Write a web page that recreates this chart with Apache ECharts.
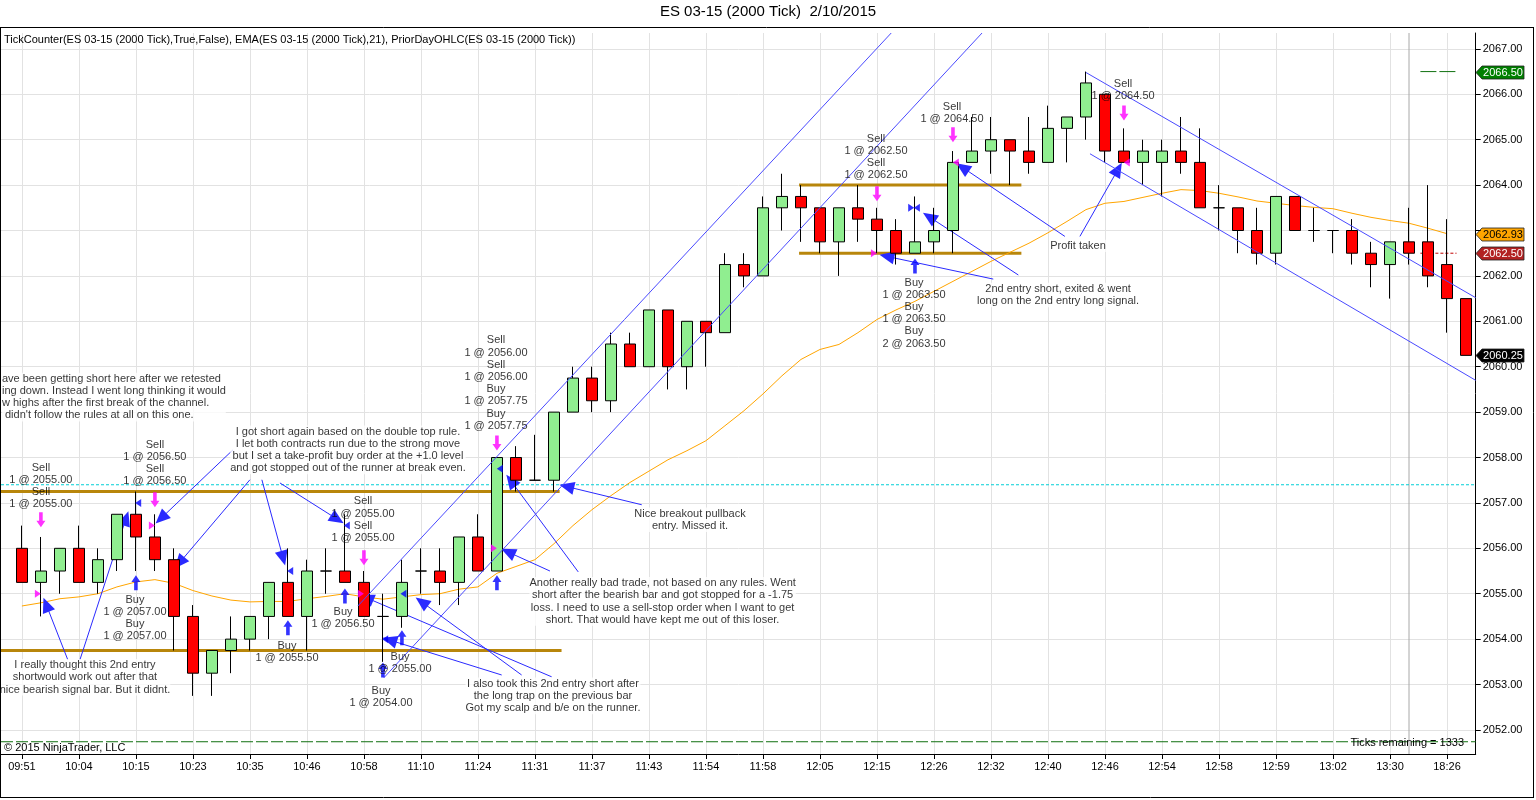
<!DOCTYPE html>
<html lang="en">
<head>
<meta charset="UTF-8" />
<title>ES 03-15 (2000 Tick) 2/10/2015</title>
<style>
  html, body { margin: 0; padding: 0; background: #fff; }
  #chart { width: 1536px; height: 800px; }
</style>
</head>
<body>
<div id="chart"></div>
<script src="https://cdn.jsdelivr.net/npm/echarts@6.0.0/dist/echarts.min.js"></script>
<script>
// time label every 3rd bar (bar 0, 3, 6, ...)
const timeLabels = ['09:51', '10:04', '10:15', '10:23', '10:35', '10:46', '10:58', '11:10', '11:24',
  '11:31', '11:37', '11:43', '11:54', '11:58', '12:05', '12:15', '12:26', '12:32', '12:40',
  '12:46', '12:54', '12:58', '12:59', '13:02', '13:30', '18:26']

// one row per 2000 tick bar: open, close, low, high
const bars = [
  [2056, 2055.25, 2055.25, 2056.5], [2055.25, 2055.5, 2054.5, 2056.25], [2055.5, 2056, 2055, 2056],
  [2056, 2055.25, 2055.25, 2056.5], [2055.25, 2055.75, 2055, 2056], [2055.75, 2056.75, 2055.5, 2056.75],
  [2056.75, 2056.25, 2055.5, 2057.25], [2056.25, 2055.75, 2055.5, 2056.75], [2055.75, 2054.5, 2053.75, 2056],
  [2054.5, 2053.25, 2052.75, 2054.75], [2053.25, 2053.75, 2052.75, 2053.75], [2053.75, 2054, 2053.25, 2054.5],
  [2054, 2054.5, 2053.75, 2054.5], [2054.5, 2055.25, 2054, 2055.25], [2055.25, 2054.5, 2054.5, 2056],
  [2054.5, 2055.5, 2053.75, 2055.75], [2055.5, 2055.5, 2055, 2056], [2055.5, 2055.25, 2055.25, 2056.75],
  [2055.25, 2054.5, 2054.5, 2055.5], [2054.5, 2054.5, 2053.5, 2055], [2054.5, 2055.25, 2054.25, 2055.75],
  [2055.5, 2055.5, 2055, 2056], [2055.5, 2055.25, 2054.75, 2056], [2055.25, 2056.25, 2054.75, 2056.25],
  [2056.25, 2055.5, 2055.5, 2056.75], [2055.5, 2058, 2055.5, 2058], [2058, 2057.5, 2057.25, 2058.25],
  [2057.5, 2057.5, 2057.5, 2058.5], [2057.5, 2059, 2057.25, 2059], [2059, 2059.75, 2059, 2060],
  [2059.75, 2059.25, 2059, 2060], [2059.25, 2060.5, 2059, 2060.75], [2060.5, 2060, 2060, 2060.75],
  [2060, 2061.25, 2060, 2061.25], [2061.25, 2060, 2059.5, 2061.25], [2060, 2061, 2059.5, 2061],
  [2061, 2060.75, 2060, 2061], [2060.75, 2062.25, 2060.75, 2062.5], [2062.25, 2062, 2061.75, 2062.5],
  [2062, 2063.5, 2062, 2063.75], [2063.5, 2063.75, 2063, 2064.25], [2063.75, 2063.5, 2062.75, 2064],
  [2063.5, 2062.75, 2062.5, 2063.5], [2062.75, 2063.5, 2062, 2063.5], [2063.5, 2063.25, 2062.75, 2064],
  [2063.25, 2063, 2062.5, 2063.5], [2063, 2062.5, 2062.25, 2063.25], [2062.5, 2062.75, 2062.5, 2063.75],
  [2062.75, 2063, 2062.5, 2063.5], [2063, 2064.5, 2062.5, 2064.75], [2064.5, 2064.75, 2064.5, 2065.5],
  [2064.75, 2065, 2064.25, 2065.5], [2065, 2064.75, 2064, 2065], [2064.75, 2064.5, 2064.25, 2065.5],
  [2064.5, 2065.25, 2064.5, 2065.75], [2065.25, 2065.5, 2064.5, 2065.5], [2065.5, 2066.25, 2065, 2066.5],
  [2066, 2064.75, 2064.5, 2066], [2064.75, 2064.5, 2064.5, 2065.25], [2064.5, 2064.75, 2064, 2065],
  [2064.5, 2064.75, 2063.75, 2065], [2064.75, 2064.5, 2064.25, 2065.5], [2064.5, 2063.5, 2063.5, 2065.25],
  [2063.5, 2063.5, 2063, 2064], [2063.5, 2063, 2062.5, 2063.5], [2063, 2062.5, 2062.25, 2063.5],
  [2062.5, 2063.75, 2062.25, 2063.75], [2063.75, 2063, 2063, 2063.75], [2063, 2063, 2062.75, 2063.5],
  [2063, 2063, 2062.5, 2063], [2063, 2062.5, 2062.25, 2063.25], [2062.5, 2062.25, 2061.75, 2062.75],
  [2062.25, 2062.75, 2061.5, 2062.75], [2062.75, 2062.5, 2062.25, 2063.5], [2062.75, 2062, 2061.75, 2064],
  [2062.25, 2061.5, 2060.75, 2063.25], [2061.5, 2060.25, 2060.25, 2061.5]
]

// EMA(21)
const ema = [2054.73, 2054.80, 2054.89, 2054.93, 2055.00, 2055.15, 2055.26, 2055.31, 2055.23, 2055.07,
  2054.95, 2054.86, 2054.82, 2054.83, 2054.83, 2054.89, 2054.94, 2055.00, 2054.93, 2054.88,
  2054.93, 2054.98, 2055.00, 2055.10, 2055.15, 2055.45, 2055.60, 2055.75, 2056.10, 2056.50,
  2056.85, 2057.16, 2057.45, 2057.70, 2057.95, 2058.15, 2058.37, 2058.70, 2059.03, 2059.40,
  2059.80, 2060.16, 2060.38, 2060.49, 2060.75, 2061.04, 2061.25, 2061.44, 2061.66, 2061.88,
  2062.10, 2062.32, 2062.52, 2062.72, 2062.95, 2063.20, 2063.46, 2063.60, 2063.64, 2063.73,
  2063.82, 2063.90, 2063.88, 2063.82, 2063.74, 2063.65, 2063.60, 2063.55, 2063.51, 2063.48,
  2063.38, 2063.29, 2063.22, 2063.16, 2063.05, 2062.93]

const priceTicks = [2052, 2053, 2054, 2055, 2056, 2057, 2058, 2059, 2060, 2061, 2062, 2063, 2064, 2065, 2066, 2067]
// 2063.00 sits under the EMA price box, so no label there
const priceLabels = [2052, 2053, 2054, 2055, 2056, 2057, 2058, 2059, 2060, 2061, 2062, 2064, 2065, 2066, 2067]

// drawn horizontal levels: price, from bar, to bar
const levels = [[2057.25, -1.1, 28.3], [2053.75, -1.1, 28.4], [2064.0, 40.9, 52.6], [2062.5, 40.9, 52.6]]
// channels: bar, price -> bar, price
const channels = [[17.68, 2054.73, 45.75, 2067.35], [19.05, 2053.15, 50.53, 2067.35],
  [56.0, 2066.48, 76.51, 2061.52], [56.21, 2064.69, 76.51, 2059.70]]
const priorDayClose = 2057.4
const priorDayLow = 2051.74
const sessionBreak = 73

// trade markers
const sellArrows = [[1, 2056.63], [7, 2057.07], [18, 2055.79], [25, 2058.32], [45, 2063.81], [49, 2065.11], [58, 2065.59]]
const buyArrows = [[6, 2055.24], [14, 2054.25], [17, 2054.95], [19, 2053.32], [20, 2054.03], [25, 2055.24], [47, 2062.22]]
const sellFills = [[0.84, 2055.0], [6.84, 2056.5], [17.84, 2055.0], [24.84, 2056.0], [44.84, 2062.5], [49.15, 2064.5], [58.15, 2064.5]]
const sellFillDir = [1, 1, 1, 1, 1, -1, -1]
const buyFills = [[6.12, 2057.0], [14.12, 2055.5], [17.1, 2056.5], [19.12, 2054.0], [20.08, 2055.0], [25.15, 2057.75], [47.1, 2063.5], [46.8, 2063.5]]
const buyFillDir = [-1, -1, -1, -1, -1, -1, -1, 1]

const tradeTexts = [
  [1, 2057.37, 'Sell\n1 @ 2055.00\nSell\n1 @ 2055.00'],
  [7, 2057.88, 'Sell\n1 @ 2056.50\nSell\n1 @ 2056.50'],
  [5.95, 2054.47, 'Buy\n1 @ 2057.00\nBuy\n1 @ 2057.00'],
  [13.95, 2053.72, 'Buy\n1 @ 2055.50'],
  [17.95, 2056.63, 'Sell\n1 @ 2055.00\nSell\n1 @ 2055.00'],
  [16.9, 2054.47, 'Buy\n1 @ 2056.50'],
  [19.9, 2053.48, 'Buy\n1 @ 2055.00'],
  [18.9, 2052.73, 'Buy\n1 @ 2054.00'],
  [24.95, 2059.64, 'Sell\n1 @ 2056.00\nSell\n1 @ 2056.00\nBuy\n1 @ 2057.75\nBuy\n1 @ 2057.75'],
  [44.95, 2064.62, 'Sell\n1 @ 2062.50\nSell\n1 @ 2062.50'],
  [46.95, 2061.18, 'Buy\n1 @ 2063.50\nBuy\n1 @ 2063.50\nBuy\n2 @ 2063.50'],
  [48.95, 2065.59, 'Sell\n1 @ 2064.50'],
  [57.95, 2066.10, 'Sell\n1 @ 2064.50']
]

const comments = [
  [-1.05, 2059.33, 'left', "ave been getting short here after we retested\ning down. Instead I went long thinking it would\nw highs after the first break of the channel.\n didn't follow the rules at all on this one."],
  [17.16, 2058.17, 'center', 'I got short again based on the double top rule.\nI let both contracts run due to the strong move\nbut I set a take-profit buy order at the +1.0 level\nand got stopped out of the runner at break even.'],
  [3.32, 2053.16, 'center', 'I really thought this 2nd entry\nshortwould work out after that\nnice bearish signal bar. But it didnt.'],
  [27.95, 2052.75, 'center', 'I also took this 2nd entry short after\nthe long trap on the previous bar\nGot my scalp and b/e on the runner.'],
  [33.72, 2054.83, 'center', 'Another really bad trade, not based on any rules. Went\nshort after the bearish bar and got stopped for a -1.75\nloss. I need to use a sell-stop order when I want to get\nshort. That would have kept me out of this loser.'],
  [35.16, 2056.63, 'center', 'Nice breakout pullback\nentry. Missed it.'],
  [55.58, 2062.66, 'center', 'Profit taken'],
  [54.53, 2061.58, 'center', '2nd entry short, exited & went\nlong on the 2nd entry long signal.']
]

// comment arrows: from bar, price -> to bar, price
const noteArrows = [
  [2.42, 2053.54, 1.28, 2054.76], [3.05, 2053.54, 5.48, 2056.66],
  [11.11, 2058.17, 7.32, 2056.66], [12.0, 2057.51, 8.29, 2055.68],
  [12.63, 2057.51, 13.75, 2055.78], [13.58, 2057.44, 16.6, 2056.64],
  [27.88, 2053.17, 18.13, 2054.91], [26.3, 2053.21, 21.04, 2054.82], [25.25, 2053.21, 19.35, 2053.98],
  [27.79, 2055.5, 25.58, 2055.92], [29.28, 2055.48, 25.73, 2057.49],
  [32.62, 2056.96, 28.67, 2057.36],
  [54.89, 2062.87, 49.5, 2064.39], [55.68, 2062.87, 57.69, 2064.35],
  [51.12, 2061.93, 45.52, 2062.43], [52.44, 2062.02, 47.75, 2063.3]
]

// right axis price boxes: value, fill, text colour
const priceBoxes = [[2066.5, '#008000', '#fff'], [2062.93, '#ffa500', '#000'], [2062.5, '#b22222', '#fff'], [2060.25, '#000', '#fff']]

const FONT = '"Liberation Sans", Arial, sans-serif'
const X_MIN = -1.1, X_MAX = 76.51
const Y_MIN = 2051.47, Y_MAX = 2067.35

let chart = echarts.init(document.getElementById('chart'))

function lineSeries(points, style, z) {
  return {
    type: 'line', data: points, showSymbol: false, symbol: 'none', silent: true,
    lineStyle: style, z: z || 3, animation: false
  }
}

let series = []
// levels first so candles sit on top
series.push(lineSeries([[X_MIN, priorDayClose], [X_MAX, priorDayClose]], { color: '#00cfd6', width: 1, type: [3, 2] }, 2))
series.push(lineSeries([[X_MIN, priorDayLow], [X_MAX, priorDayLow]], { color: '#107010', width: 1, type: [12, 3] }, 2))
series.push(lineSeries([[73.6, 2066.5], [75.55, 2066.5]], { color: '#107010', width: 1, type: [16, 3] }, 2))
series.push(lineSeries([[73.6, 2062.5], [75.5, 2062.5]], { color: '#c00000', width: 1, type: [3, 2] }, 2))
series.push(lineSeries([[sessionBreak, Y_MIN], [sessionBreak, Y_MAX]], { color: '#a8a8a8', width: 1 }, 1))
levels.forEach(l => series.push(lineSeries([[l[1], l[0]], [l[2], l[0]]], { color: '#b8860b', width: 3 }, 3)))
channels.forEach(c => series.push(lineSeries([[c[0], c[1]], [c[2], c[3]]], { color: '#4a4aff', width: 1 }, 6)))

series.push({
  type: 'candlestick',
  data: bars.map((b, i) => [i, b[0], b[1], b[2], b[3]]),
  encode: { x: 0, y: [1, 2, 3, 4] },
  barWidth: 11,
  itemStyle: {
    color: '#90ee90', color0: '#ff0000',
    borderColor: '#000', borderColor0: '#000', borderColorDoji: '#000', borderWidth: 1
  },
  z: 5
})
series.push(lineSeries(ema.map((v, i) => [i, v]), { color: '#ffa500', width: 1 }, 4))

// arrows from the comments
series.push({
  type: 'line', data: [], silent: true,
  markLine: {
    silent: true, animation: false,
    symbol: ['none', 'triangle'], symbolSize: [13, 15],
    label: { show: false },
    lineStyle: { color: '#2a2aff', width: 1, type: 'solid' },
    emphasis: { disabled: true },
    data: noteArrows.map(a => [{ coord: [a[0], a[1]] }, { coord: [a[2], a[3]] }])
  },
  z: 7
})

const downPath = 'path://M3,0 L7,0 L7,9 L10,9 L5,16 L0,9 L3,9 Z'
const upPath = 'path://M5,0 L10,7 L7,7 L7,16 L3,16 L3,7 L0,7 Z'
series.push({ type: 'scatter', data: sellArrows, symbol: downPath, symbolSize: [9, 15], itemStyle: { color: '#ff00ff' }, silent: true, z: 8 })
series.push({ type: 'scatter', data: buyArrows, symbol: upPath, symbolSize: [9, 15], itemStyle: { color: '#0000ff' }, silent: true, z: 8 })
series.push({
  type: 'scatter', silent: true, z: 8, symbol: 'triangle', symbolSize: [8, 6], itemStyle: { color: '#ff00ff' },
  data: sellFills.map((p, i) => ({ value: p, symbolRotate: sellFillDir[i] > 0 ? -90 : 90 }))
})
series.push({
  type: 'scatter', silent: true, z: 8, symbol: 'triangle', symbolSize: [8, 6], itemStyle: { color: '#0000ff' },
  data: buyFills.map((p, i) => ({ value: p, symbolRotate: buyFillDir[i] > 0 ? -90 : 90 }))
})

// text on the chart
const textStyle = { show: true, position: 'inside', color: '#000', fontFamily: FONT, fontSize: 11, lineHeight: 12.2 }
series.push({
  type: 'scatter', symbolSize: 0, silent: true, z: 9,
  label: Object.assign({ formatter: '{b}', align: 'center', verticalAlign: 'middle' }, textStyle),
  data: tradeTexts.map(t => ({ name: t[2], value: [t[0], t[1]] }))
})
series.push({
  type: 'scatter', symbolSize: 0, silent: true, z: 9,
  label: Object.assign({ formatter: '{b}', verticalAlign: 'middle', backgroundColor: '#fff' }, textStyle),
  data: comments.map(c => ({ name: c[3], value: [c[0], c[1]], label: { align: c[2] } }))
})

let option = {
  animation: false,
  backgroundColor: '#fff',
  grid: { left: 1, top: 33, width: 1474.7, bottom: 46, containLabel: false },
  xAxis: {
    type: 'value', min: X_MIN, max: X_MAX,
    axisLine: { show: true, onZero: false, lineStyle: { color: '#000', width: 1 } },
    axisTick: { show: true, length: 5, customValues: timeLabels.map((t, i) => i * 3), lineStyle: { color: '#000' } },
    axisLabel: {
      customValues: timeLabels.map((t, i) => i * 3),
      formatter: v => timeLabels[Math.round(v / 3)],
      color: '#000', fontFamily: FONT, fontSize: 11, margin: 7
    },
    splitLine: { show: true, lineStyle: { color: '#e2e2e2', width: 1 } }
  },
  yAxis: {
    type: 'value', position: 'right', min: Y_MIN, max: Y_MAX, scale: true,
    axisLine: { show: true, onZero: false, lineStyle: { color: '#000', width: 1 } },
    axisTick: { show: true, length: 5, customValues: priceTicks, lineStyle: { color: '#000' } },
    axisLabel: {
      customValues: priceLabels,
      formatter: v => v.toFixed(2),
      color: '#000', fontFamily: FONT, fontSize: 11, margin: 7
    },
    splitLine: { show: true, lineStyle: { color: '#e2e2e2', width: 1 } }
  },
  series: series
}
chart.setOption(option)

// frame, captions and the price boxes on the right axis
let graphics = [
  { type: 'line', shape: { x1: 0, y1: 27.5, x2: 1533, y2: 27.5 }, style: { stroke: '#000', lineWidth: 1 }, z: 100 },
  { type: 'line', shape: { x1: 0.5, y1: 27, x2: 0.5, y2: 797 }, style: { stroke: '#000', lineWidth: 1 }, z: 100 },
  { type: 'line', shape: { x1: 1533.5, y1: 27, x2: 1533.5, y2: 797.5 }, style: { stroke: '#000', lineWidth: 1 }, z: 100 },
  { type: 'line', shape: { x1: 0, y1: 797.5, x2: 1534, y2: 797.5 }, style: { stroke: '#000', lineWidth: 1 }, z: 100 },
  { type: 'text', left: 'center', top: 4, style: { text: 'ES 03-15 (2000 Tick)  2/10/2015', font: '15px ' + FONT, fill: '#000' } },
  { type: 'text', x: 4, y: 34, style: { text: 'TickCounter(ES 03-15 (2000 Tick),True,False), EMA(ES 03-15 (2000 Tick),21), PriorDayOHLC(ES 03-15 (2000 Tick))', font: '11px ' + FONT, fill: '#000' }, z: 100 },
  { type: 'text', x: 4, y: 742, style: { text: '© 2015 NinjaTrader, LLC', font: '11px ' + FONT, fill: '#000' }, z: 100 },
  { type: 'text', x: 1464, y: 737, style: { text: 'Ticks remaining = 1333', font: '11px ' + FONT, fill: '#000', align: 'right' }, z: 100 }
]
priceBoxes.forEach(b => {
  let py = chart.convertToPixel({ gridIndex: 0 }, [0, b[0]])[1]
  graphics.push({
    type: 'group', x: 1476, y: Math.round(py) + 0.5, z: 100,
    children: [
      { type: 'polygon', shape: { points: [[0, 0], [6, -6.5], [48, -6.5], [48, 6.5], [6, 6.5]] }, style: { fill: b[1], stroke: '#222', lineWidth: 0.8 } },
      { type: 'text', x: 27, y: 0, style: { text: b[0].toFixed(2), font: '11px ' + FONT, fill: b[2], align: 'center', verticalAlign: 'middle' } }
    ]
  })
})
chart.setOption({ graphic: graphics })
</script>
</body>
</html>
